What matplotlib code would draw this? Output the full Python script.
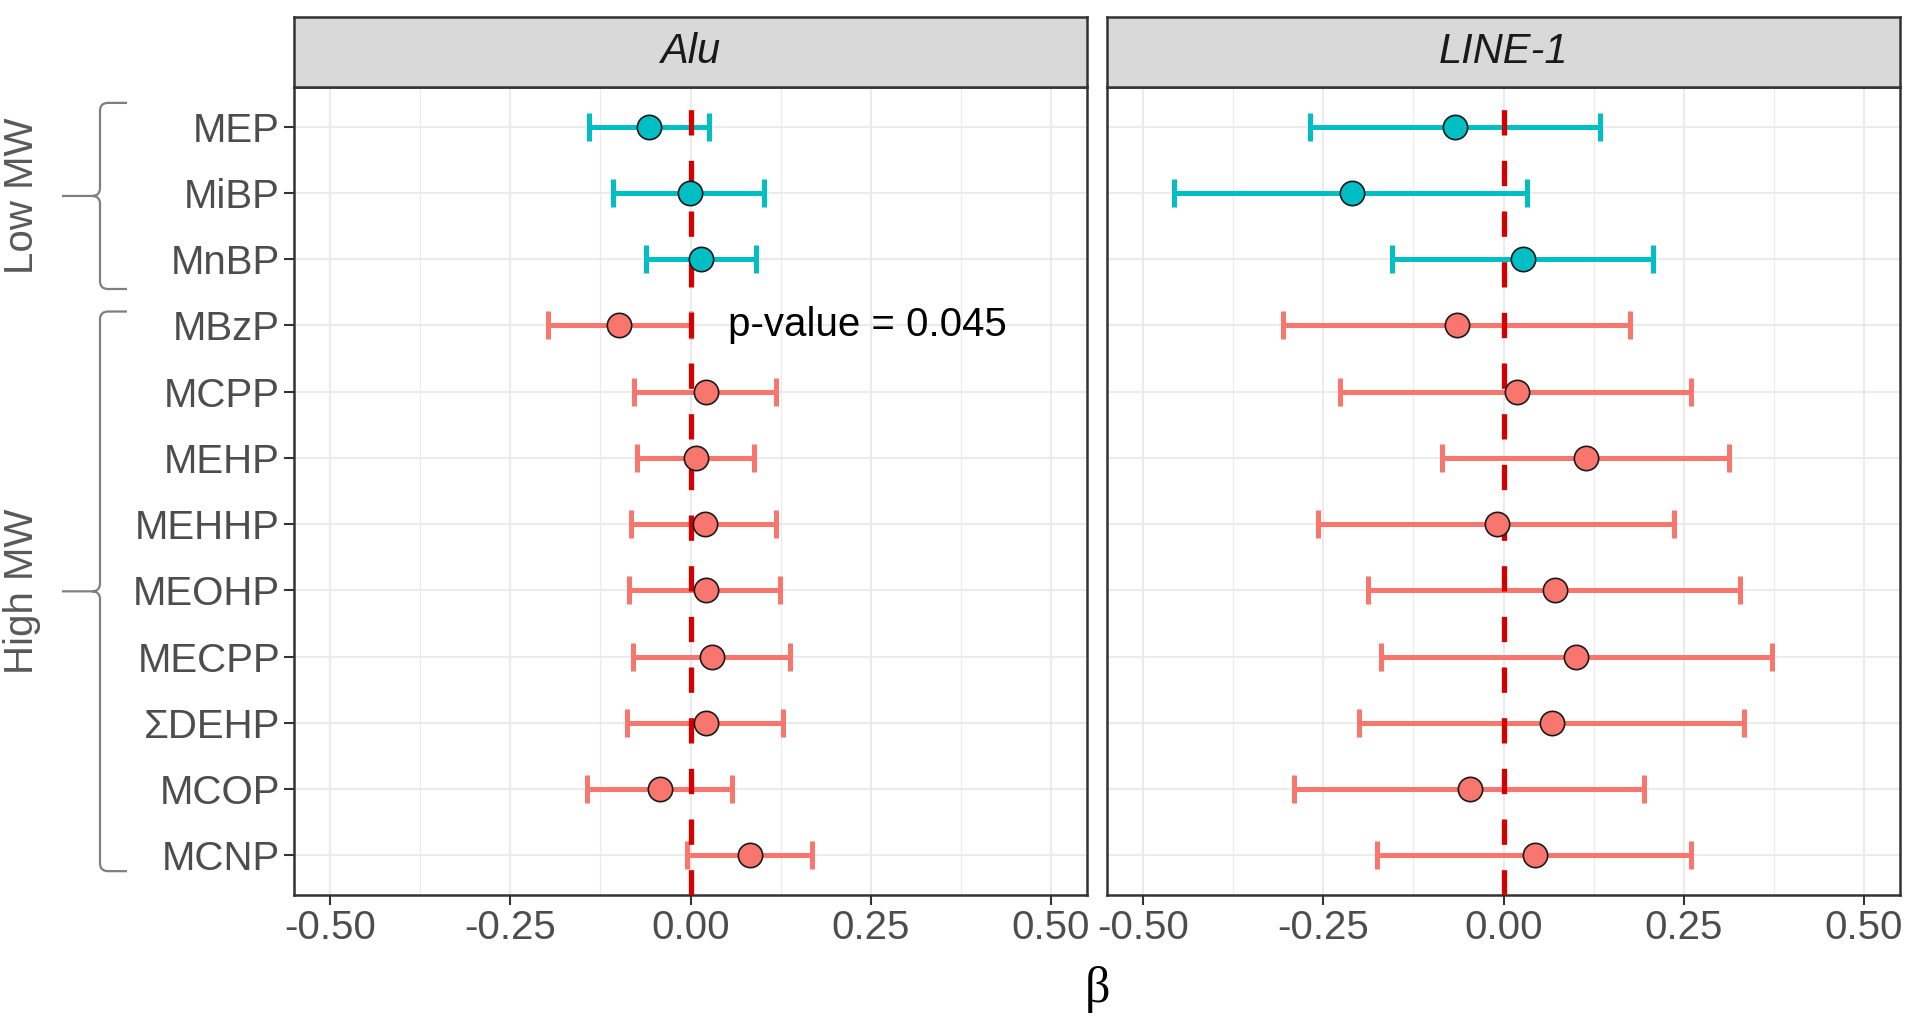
import matplotlib
matplotlib.use('Agg')
import matplotlib.pyplot as plt
from matplotlib.path import Path
from matplotlib.patches import PathPatch
import matplotlib.transforms as mtransforms

# ---------------- data ----------------
categories = ['MEP', 'MiBP', 'MnBP', 'MBzP', 'MCPP', 'MEHP', 'MEHHP',
              'MEOHP', 'MECPP', 'ΣDEHP', 'MCOP', 'MCNP']
groups = ['Low'] * 3 + ['High'] * 9
group_labels = {'Low': 'Low MW', 'High': 'High MW'}

alu_beta = [-0.057, -0.001, 0.015, -0.099, 0.022, 0.008, 0.020, 0.022, 0.030, 0.022, -0.043, 0.082]
alu_lo = [-0.141, -0.108, -0.062, -0.197, -0.078, -0.074, -0.083, -0.085, -0.080, -0.088, -0.144, -0.005]
alu_hi = [0.025, 0.102, 0.091, 0.000, 0.118, 0.088, 0.118, 0.124, 0.138, 0.128, 0.057, 0.168]

line1_beta = [-0.067, -0.210, 0.027, -0.064, 0.019, 0.115, -0.009, 0.071, 0.101, 0.067, -0.047, 0.044]
line1_lo = [-0.269, -0.457, -0.155, -0.306, -0.227, -0.085, -0.258, -0.188, -0.170, -0.201, -0.291, -0.175]
line1_hi = [0.134, 0.033, 0.208, 0.175, 0.260, 0.313, 0.236, 0.328, 0.372, 0.333, 0.195, 0.260]

panel_names = ['Alu', 'LINE-1']
xticks = [-0.50, -0.25, 0.00, 0.25, 0.50]
xtick_labels = ['-0.50', '-0.25', '0.00', '0.25', '0.50']
x_minor = [-0.375, -0.125, 0.125, 0.375]
annot_text = 'p-value = 0.045'
annot_cat = 'MBzP'
annot_x = 0.052
xlabel = 'β'

# ---------------- style ----------------
group_colors = {'Low': '#00BFC4', 'High': '#F8766D'}
vline_color = '#D40000'
FONT = 'Liberation Sans'
plt.rcParams['font.family'] = [FONT, 'DejaVu Sans']
FS = 29

W, H, DPI = 1920, 1021, 100
fig = plt.figure(figsize=(W / DPI, H / DPI), dpi=DPI)

panel_y0 = 1 - 895 / H
panel_h = (895 - 87) / H
strip_y0 = 1 - 87 / H
strip_h = (87 - 17) / H
panel_x = [294 / W, 1107 / W]
panel_w = (1087 - 294) / W

datasets = [(alu_beta, alu_lo, alu_hi), (line1_beta, line1_lo, line1_hi)]
ypos = list(range(len(categories)))
axes = []
for i, (name, (b, lo, hi)) in enumerate(zip(panel_names, datasets)):
    ax = fig.add_axes([panel_x[i], panel_y0, panel_w, panel_h])
    axes.append(ax)
    ax.set_xlim(-0.55, 0.55)
    ax.set_ylim(len(categories) - 0.4, -0.6)
    # grid
    for xm in x_minor:
        ax.axvline(xm, color='#EBEBEB', lw=0.8, zorder=0)
    for xt in xticks:
        ax.axvline(xt, color='#EBEBEB', lw=1.5, zorder=0)
    for yp in ypos:
        ax.axhline(yp, color='#EBEBEB', lw=1.5, zorder=0)
    cols = [group_colors[g] for g in groups]
    # error bars
    for yp, bb, l, h, c in zip(ypos, b, lo, hi, cols):
        ax.errorbar([bb], [yp], xerr=[[bb - l], [h - bb]], fmt='none',
                    ecolor=c, elinewidth=3.6, capsize=10, capthick=3.6, zorder=2)
    ax.axvline(0, color=vline_color, lw=3.8, dashes=(4.8, 4.8), zorder=3)
    for yp, bb, c in zip(ypos, b, cols):
        ax.plot([bb], [yp], 'o', ms=17.5, mfc=c, mec='#1A1A1A', mew=1.2, zorder=4)

    ax.set_xticks(xticks)
    ax.set_xticklabels(xtick_labels)
    ax.set_yticks(ypos)
    if i == 0:
        ax.set_yticklabels(categories)
        ax.tick_params(axis='y', length=7, width=1.5, color='#333333',
                       labelsize=FS, labelcolor='#4D4D4D', pad=3)
    else:
        ax.set_yticklabels([])
        ax.tick_params(axis='y', length=0)
    ax.tick_params(axis='x', length=7, width=1.5, color='#333333',
                   labelsize=FS, labelcolor='#4D4D4D', pad=3)
    for sp in ax.spines.values():
        sp.set_color('#333333')
        sp.set_linewidth(1.8)

    # strip
    sax = fig.add_axes([panel_x[i], strip_y0, panel_w, strip_h])
    sax.set_facecolor('#D9D9D9')
    sax.set_xticks([])
    sax.set_yticks([])
    for sp in sax.spines.values():
        sp.set_color('#333333')
        sp.set_linewidth(1.8)
    sax.text(0.5, 0.5, name, transform=sax.transAxes, ha='center', va='center',
             fontsize=30, style='italic', color='#1A1A1A')

# annotation
axes[0].text(annot_x, categories.index(annot_cat), annot_text, ha='left', va='center',
             fontsize=FS, color='black', zorder=5)

# x label
fig.text(((294 + 1900) / 2) / W, 1 - 989 / H, xlabel, ha='center', va='center',
         fontsize=36, family=['Liberation Serif', 'DejaVu Serif'], color='black')

# group braces (x in inches from figure left, y in data units of left panel)
ax0 = axes[0]
trans = mtransforms.blended_transform_factory(fig.dpi_scale_trans, ax0.transData)
brace_pads = {'Low': (0.36, 0.45), 'High': (0.21, 0.24)}
x_v, x_end, x_tip, rx, ry = 1.00, 1.27, 0.62, 0.08, 0.12
for g in ['Low', 'High']:
    idx = [k for k, gg in enumerate(groups) if gg == g]
    top = idx[0] - brace_pads[g][0]
    bot = idx[-1] + brace_pads[g][1]
    mid = (top + bot) / 2
    verts = [(x_end, top), (x_v + rx, top), (x_v, top), (x_v, top + ry),
             (x_v, mid - ry), (x_v, mid), (x_v - rx, mid), (x_tip, mid),
             (x_v - rx, mid), (x_v, mid), (x_v, mid + ry),
             (x_v, bot - ry), (x_v, bot), (x_v + rx, bot), (x_end, bot)]
    codes = [Path.MOVETO, Path.LINETO, Path.CURVE3, Path.CURVE3,
             Path.LINETO, Path.CURVE3, Path.CURVE3, Path.LINETO,
             Path.MOVETO, Path.CURVE3, Path.CURVE3,
             Path.LINETO, Path.CURVE3, Path.CURVE3, Path.LINETO]
    patch = PathPatch(Path(verts, codes), transform=trans, fill=False,
                      edgecolor='#7F7F7F', lw=1.6, clip_on=False)
    ax0.add_patch(patch)
    ax0.text(0.22, mid, group_labels[g], transform=trans, rotation=90,
             ha='center', va='center', fontsize=FS, color='#595959', clip_on=False)

fig.savefig('out.png', dpi=DPI)
